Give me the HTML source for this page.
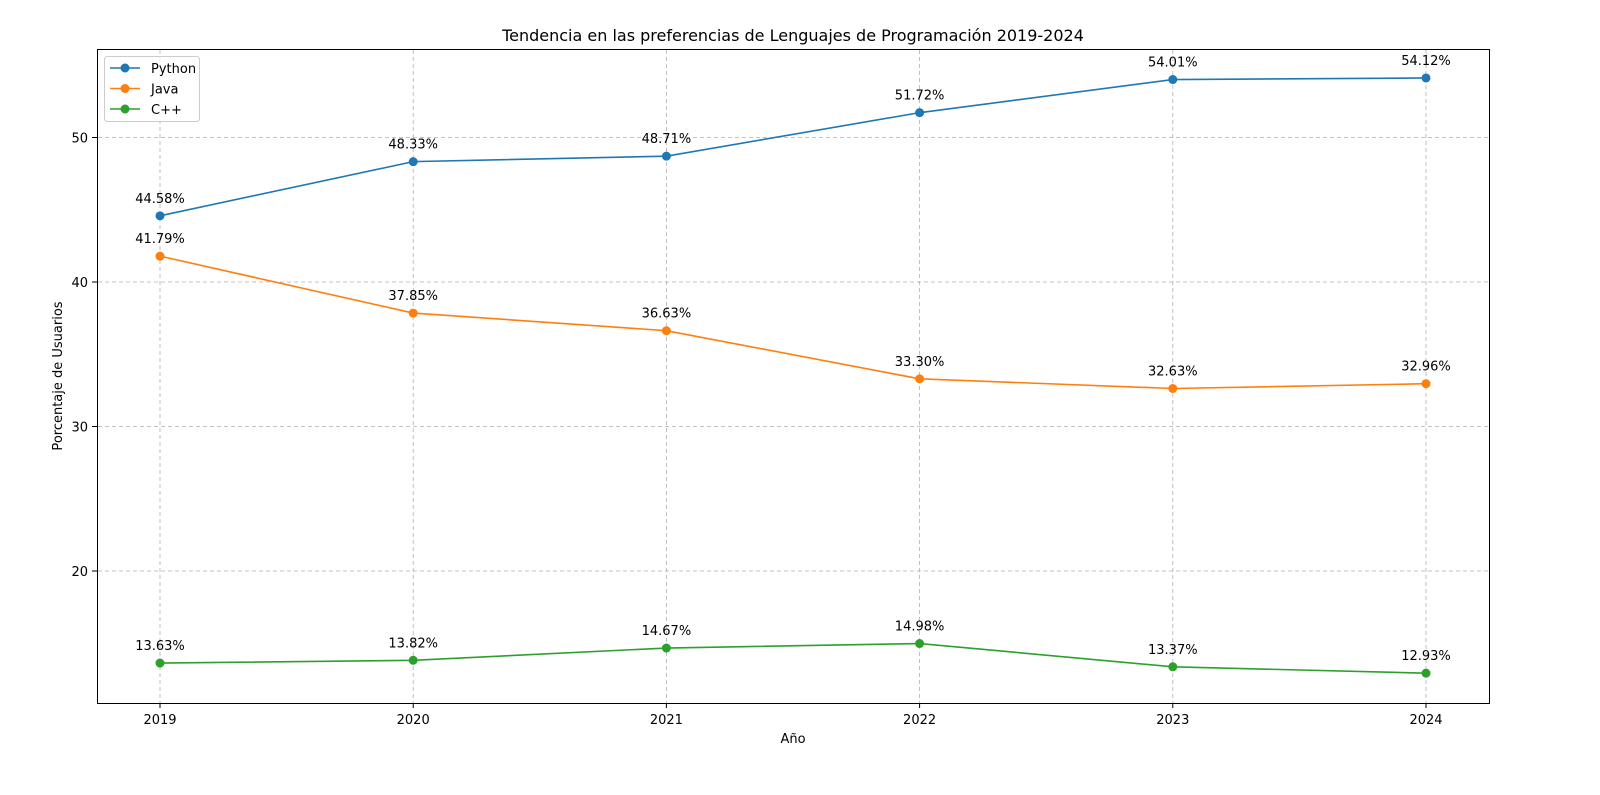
<!DOCTYPE html>
<html><head><meta charset="utf-8"><style>
html,body{margin:0;padding:0;background:#fff;}
svg{display:block;font-family:"DejaVu Sans","Liberation Sans",sans-serif;}
</style></head><body>
<svg id="chart" width="1600" height="795">
<text x="793" y="41" font-size="16" text-anchor="middle">Tendencia en las preferencias de Lenguajes de Programación 2019-2024</text>
<g id="grid"></g>
<g id="series"></g>
<rect x="97.5" y="49.5" width="1392" height="654" fill="none" stroke="#000" stroke-width="1"/>
<g id="ticks" font-size="13"></g>
<text x="793" y="743" font-size="13" text-anchor="middle">Año</text>
<text transform="translate(62,376) rotate(-90)" font-size="13" text-anchor="middle">Porcentaje de Usuarios</text>
<g>
<rect x="104.5" y="56.5" width="95" height="65" rx="3" fill="#fff" fill-opacity="0.8" stroke="#ccc"/>
<g id="legend"></g>
</g>
</svg>
<script>
const years = [2019, 2020, 2021, 2022, 2023, 2024];
const python = [44.58, 48.33, 48.71, 51.72, 54.01, 54.12];
const java = [41.79, 37.85, 36.63, 33.30, 32.63, 32.96];
const cpp = [13.63, 13.82, 14.67, 14.98, 13.37, 12.93];
const yTicks = [20, 30, 40, 50];
const seriesNames = ["Python", "Java", "C++"];

const NS = "http://www.w3.org/2000/svg";
const colors = ["#1f77b4", "#ff7f0e", "#2ca02c"];
function xs(yr){ return 160 + (yr - 2019) * 253.2; }
function ys(v){ return 571 - (v - 20) * 14.45; }
function mk(tag, attrs, parent){
  const e = document.createElementNS(NS, tag);
  for (const k in attrs) e.setAttribute(k, attrs[k]);
  parent.appendChild(e); return e;
}
const grid = document.getElementById('grid');
const ticks = document.getElementById('ticks');
years.forEach(yr => {
  const l = mk('line', {x1: xs(yr), x2: xs(yr), y1: 50, y2: 703, stroke: '#b0b0b0', 'stroke-dasharray': '4,3', 'stroke-width': 0.8}, grid);
  
  
  mk('line', {x1: xs(yr), x2: xs(yr), y1: 703, y2: 708, stroke: '#000'}, ticks);
  const t = mk('text', {x: xs(yr), y: 724, 'text-anchor': 'middle'}, ticks);
  t.textContent = yr;
  
  
});
yTicks.forEach(v => {
  const l = mk('line', {x1: 98, x2: 1489, y1: ys(v), y2: ys(v), stroke: '#b0b0b0', 'stroke-dasharray': '4,3', 'stroke-width': 0.8}, grid);
  
  
  mk('line', {x1: 92, x2: 97, y1: ys(v), y2: ys(v), stroke: '#000'}, ticks);
  const t = mk('text', {x: 88, y: ys(v) + 5, 'text-anchor': 'end'}, ticks);
  t.textContent = v;
  
  
});
const sg = document.getElementById('series');
[python, java, cpp].forEach((vals, i) => {
  const g = mk('g', {}, sg);
  
  
  const pts = vals.map((v, j) => xs(years[j]) + ',' + ys(v)).join(' ');
  mk('polyline', {points: pts, fill: 'none', stroke: colors[i], 'stroke-width': 1.6}, g);
  vals.forEach((v, j) => {
    const c = mk('circle', {cx: xs(years[j]), cy: ys(v), r: 4.5, fill: colors[i]}, g);
    
    
    const t = mk('text', {x: xs(years[j]), y: ys(v) - 13, 'text-anchor': 'middle', 'font-size': 13}, g);
    t.textContent = v.toFixed(2) + '%';
    
    
  });
});
const lg = document.getElementById('legend');
seriesNames.forEach((n, i) => {
  const y = 68 + i * 20.5;
  const e = mk('g', {}, lg);
  
  
  mk('line', {x1: 110, x2: 140, y1: y, y2: y, stroke: colors[i], 'stroke-width': 1.6}, e);
  mk('circle', {cx: 125, cy: y, r: 4.5, fill: colors[i]}, e);
  const t = mk('text', {x: 151, y: y + 5, 'font-size': 13}, e);
  t.textContent = n;
});
</script>
</body></html>
